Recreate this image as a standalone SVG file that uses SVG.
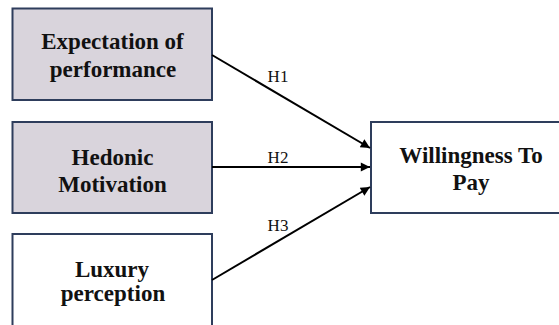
<svg xmlns="http://www.w3.org/2000/svg" width="559" height="325" viewBox="0 0 559 325">
<style>
.box{stroke:#2e3d5c;stroke-width:2}
.filled{fill:#d9d4dc}
.plain{fill:#ffffff}
.t{font-family:"Liberation Serif","Times New Roman",serif;font-weight:bold;font-size:23px;fill:#111;text-anchor:middle}
.lbl{font-family:"Liberation Serif","Times New Roman",serif;font-size:17px;fill:#111;text-anchor:middle}
.edge{stroke:#000;stroke-width:2;fill:none;marker-end:url(#ah)}
</style>
<defs>
<marker id="ah" viewBox="0 0 10 10" refX="10" refY="5" markerWidth="5.5" markerHeight="4.6" markerUnits="strokeWidth" orient="auto">
<path d="M0,0 L10,5 L0,10 z" fill="#000"/>
</marker>
</defs>
<rect width="559" height="325" fill="#fff"/>
<g id="node-expectation">
<rect class="box filled" x="12.5" y="8.5" width="199.5" height="91.5"/>
<text class="t" x="112.5" y="49">Expectation of</text>
<text class="t" x="113" y="77">performance</text>
</g>
<g id="node-hedonic">
<rect class="box filled" x="12.5" y="122" width="199.5" height="91"/>
<text class="t" x="112.5" y="165">Hedonic</text>
<text class="t" x="112.5" y="192">Motivation</text>
</g>
<g id="node-luxury">
<rect class="box plain" x="12.5" y="234" width="199.5" height="110"/>
<text class="t" x="112" y="277">Luxury</text>
<text class="t" x="113" y="301">perception</text>
</g>
<g id="node-wtp">
<rect class="box plain" x="371" y="122" width="210" height="91"/>
<text class="t" x="471" y="163">Willingness To</text>
<text class="t" x="471" y="190">Pay</text>
</g>
<g id="connectors">
<line class="edge" x1="212" y1="55" x2="370" y2="148"/>
<line class="edge" x1="212" y1="167" x2="370" y2="167"/>
<line class="edge" x1="212" y1="280" x2="370" y2="187"/>
<text class="lbl" x="278" y="82">H1</text>
<text class="lbl" x="278" y="163">H2</text>
<text class="lbl" x="278" y="231">H3</text>
</g>
</svg>
